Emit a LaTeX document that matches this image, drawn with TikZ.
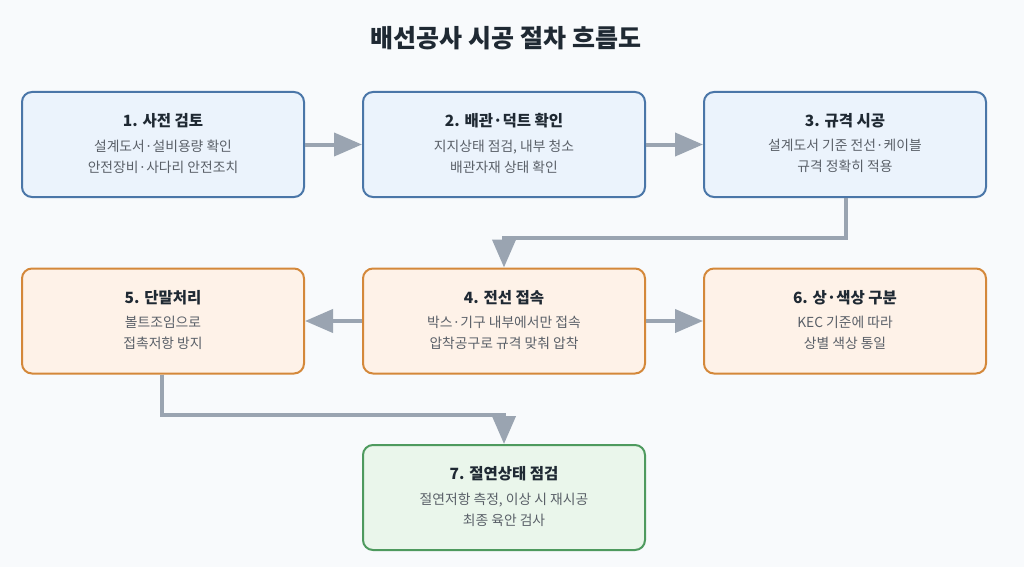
\documentclass[tikz,border=0pt]{standalone}
\usepackage{fontspec}
\setmainfont{Noto Sans CJK KR}
\usetikzlibrary{arrows.meta}
\definecolor{bg}{HTML}{F8FAFC}
\definecolor{bluefill}{HTML}{EBF3FC}
\definecolor{blueline}{HTML}{4A76A8}
\definecolor{orfill}{HTML}{FEF2E8}
\definecolor{orline}{HTML}{D4883A}
\definecolor{grfill}{HTML}{EAF6EB}
\definecolor{grline}{HTML}{4E9A5E}
\definecolor{arr}{HTML}{9AA4B1}
\definecolor{ttl}{HTML}{1F2933}
\definecolor{body}{HTML}{5A6068}
\tikzset{
  x=1pt,y=-1pt,
  box/.style={rounded corners=10pt, line width=2pt, minimum width=282pt, minimum height=105pt, inner sep=0pt},
  bluebox/.style={box, draw=blueline, fill=bluefill},
  orbox/.style={box, draw=orline, fill=orfill},
  grbox/.style={box, draw=grline, fill=grfill},
  conn/.style={draw=arr, line width=4pt, -{Triangle[length=28pt,width=23pt]}},
}
\newcommand{\boxtext}[3]{%
  \node[text=ttl, font=\fontsize{15.5}{18}\selectfont\bfseries] at ([yshift=-30pt]#1.north) {#2};
  \node[text=body, font=\fontsize{13.8}{21}\selectfont, align=center, anchor=north] at ([yshift=-45pt]#1.north) {#3};}
\begin{document}
\begin{tikzpicture}
\fill[bg] (0,0) rectangle (1024,567);
\useasboundingbox (0,0) rectangle (1024,567);
\node[text=ttl, font=\fontsize{25}{30}\selectfont\bfseries] (title) at (506,38) {배선공사 시공 절차 흐름도};
\node[bluebox] (n1) at (163,144.5) {};
\node[bluebox] (n2) at (504,144.5) {};
\node[bluebox] (n3) at (845,144.5) {};
\node[orbox] (n5) at (163,321) {};
\node[orbox] (n4) at (504,321) {};
\node[orbox] (n6) at (845,321) {};
\node[grbox] (n7) at (504,497.5) {};
\boxtext{n1}{1. 사전 검토}{설계도서·설비용량 확인\\안전장비·사다리 안전조치}
\boxtext{n2}{2. 배관·덕트 확인}{지지상태 점검, 내부 청소\\배관자재 상태 확인}
\boxtext{n3}{3. 규격 시공}{설계도서 기준 전선·케이블\\규격 정확히 적용}
\boxtext{n4}{4. 전선 접속}{박스·기구 내부에서만 접속\\압착공구로 규격 맞춰 압착}
\boxtext{n5}{5. 단말처리}{볼트조임으로\\접촉저항 방지}
\boxtext{n6}{6. 상·색상 구분}{KEC 기준에 따라\\상별 색상 통일}
\boxtext{n7}{7. 절연상태 점검}{절연저항 측정, 이상 시 재시공\\최종 육안 검사}
\coordinate (c3a) at (846,238);
\coordinate (c3b) at (504,238);
\coordinate (c5a) at (162,415);
\coordinate (c5b) at (504,415);
\draw[conn] (n1.east) -- (n2.west);
\draw[conn] (n2.east) -- (n3.west);
\draw[conn] (n3.south -| c3a) -- (c3a) -- (c3b) -- (n4.north);
\draw[conn] (n4.west) -- (n5.east);
\draw[conn] (n4.east) -- (n6.west);
\draw[conn] (n5.south -| c5a) -- (c5a) -- (c5b) -- (n7.north);
\end{tikzpicture}
\end{document}
